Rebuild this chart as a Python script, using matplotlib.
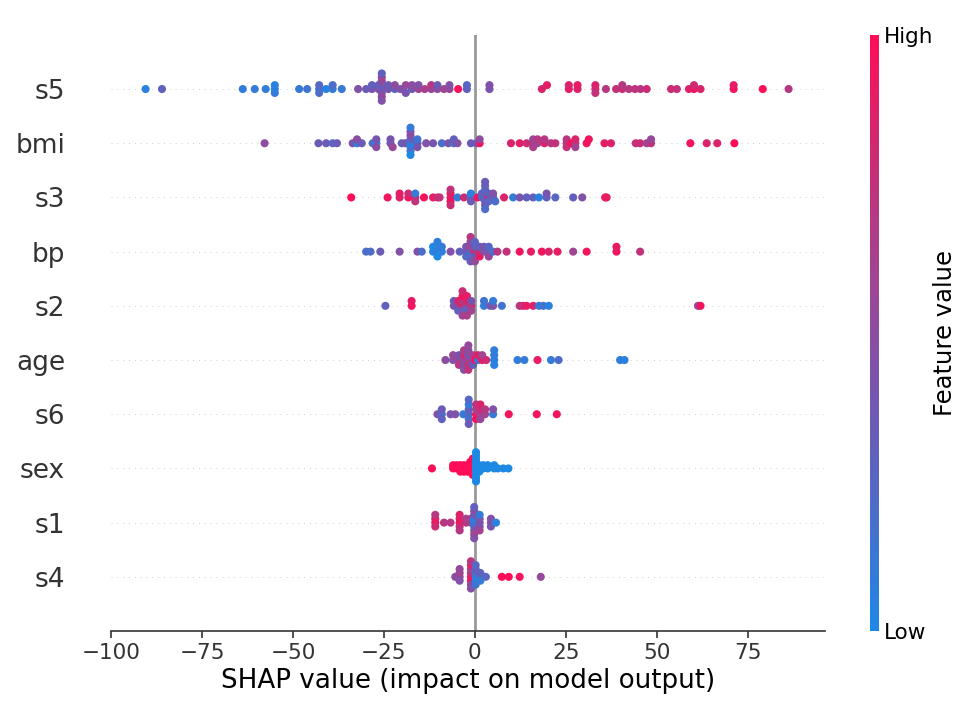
import numpy as np
import matplotlib
matplotlib.use("Agg")
import matplotlib.pyplot as plt
from matplotlib.colors import LinearSegmentedColormap

# ------------------------------------------------------------
# Data: SHAP value and normalised feature value for each point
# ------------------------------------------------------------

features = ["s4", "s1", "sex", "s6", "age", "s2", "bp", "s3", "bmi", "s5"]

s5_shap = [-90.5, -86.0, -63.8, -60.5, -57.5, -55.0, -55.0, -55.0, -48.3, -46.1,
           -42.8, -42.8, -42.8, -40.9, -39.1, -39.1, -36.6, -32.1, -29.9, -28.3,
           -28.3, -26.5, -26.5, -25.6, -25.6, -25.6, -25.6, -25.6, -25.6, -25.6,
           -25.6, -23.8, -23.8, -22.0, -22.0, -20.5, -19.0, -19.0, -17.3, -17.3,
           -15.5, -15.5, -13.8, -12.0, -12.0, -10.3, -10.3, -8.5, -7.0, -7.0,
           -4.6, -2.2, -2.2, 4.0, 4.0, 18.4, 19.8, 25.8, 25.8, 28.2,
           28.2, 33.1, 33.1, 33.1, 36.0, 38.8, 40.5, 40.5, 42.3, 44.0,
           45.5, 47.2, 53.9, 55.5, 58.8, 60.2, 60.2, 62.0, 71.1, 71.1,
           79.1, 86.2]
s5_val = [0.05, 0.3, 0.08, 0.1, 0.1, 0.02, 0.05, 0.1, 0.12, 0.15,
          0.15, 0.25, 0.2, 0.05, 0.1, 0.2, 0.12, 0.45, 0.35, 0.4,
          0.3, 0.45, 0.3, 0.25, 0.35, 0.4, 0.5, 0.55, 0.6, 0.45,
          0.3, 0.4, 0.35, 0.3, 0.5, 0.45, 0.55, 0.4, 0.35, 0.5,
          0.6, 0.45, 0.65, 0.55, 0.7, 0.5, 0.35, 0.6, 0.55, 0.45,
          0.95, 0.3, 0.25, 0.4, 0.45, 0.85, 0.9, 0.9, 0.85, 0.85,
          0.9, 0.8, 0.85, 0.75, 0.7, 0.75, 0.8, 0.7, 0.7, 0.75,
          0.7, 0.8, 0.8, 0.75, 0.85, 0.95, 0.8, 0.85, 0.95, 0.9,
          1.0, 0.7]

bmi_shap = [-57.8, -43.0, -40.9, -39.1, -37.9, -33.6, -32.4, -32.4, -31.1, -28.1,
            -27.1, -27.1, -27.1, -23.2, -23.2, -22.6, -20.1, -19.1, -17.7, -17.7,
            -17.7, -17.7, -17.7, -17.7, -17.7, -17.7, -15.8, -15.8, -15.8, -13.4,
            -11.5, -9.1, -7.3, -5.8, -5.8, -4.8, -1.1, 0.4, 1.3, 1.3,
            9.9, 12.3, 14.2, 16.0, 16.0, 16.0, 17.2, 17.2, 19.1, 19.1,
            20.9, 22.1, 25.2, 25.2, 25.2, 26.4, 27.6, 27.6, 27.6, 30.7,
            31.3, 35.6, 37.4, 44.2, 45.4, 47.2, 48.4, 48.4, 59.2, 63.7,
            66.6, 71.3]
bmi_val = [0.5, 0.35, 0.35, 0.25, 0.35, 0.45, 0.1, 0.5, 0.35, 0.2,
           0.05, 0.4, 0.5, 0.35, 0.4, 0.55, 0.3, 0.4, 0.05, 0.3,
           0.02, 0.45, 0.2, 0.5, 0.0, 0.1, 0.3, 0.15, 0.4, 0.45,
           0.4, 0.2, 0.4, 0.2, 0.3, 0.45, 0.35, 0.35, 0.95, 0.5,
           0.85, 0.9, 0.8, 0.75, 0.55, 0.65, 0.6, 0.7, 0.85, 0.7,
           0.7, 0.75, 0.65, 0.7, 0.75, 0.95, 0.7, 0.85, 0.6, 0.95,
           0.95, 0.9, 0.85, 0.75, 0.8, 0.6, 0.75, 0.55, 0.95, 0.85,
           0.85, 1.0]

s3_shap = [-34.0, -24.0, -20.7, -20.7, -18.3, -18.3, -16.4, -16.4, -16.4, -14.0,
           -11.5, -10.3, -9.7, -6.7, -6.7, -6.7, -6.7, -6.7, -4.8, -3.0,
           -1.1, -1.1, -1.1, 0.7, 1.9, 1.9, 2.8, 2.8, 2.8, 2.8,
           2.8, 2.8, 2.8, 2.8, 3.8, 3.8, 3.8, 5.0, 5.0, 5.6,
           8.0, 10.5, 12.3, 14.2, 16.0, 17.6, 19.7, 19.7, 22.1, 27.0,
           29.5, 35.8, 36.2]
s3_val = [1.0, 0.95, 0.85, 0.9, 0.95, 0.8, 0.8, 0.1, 0.75, 0.95,
          0.9, 0.8, 0.75, 0.85, 0.9, 0.95, 0.75, 0.8, 0.1, 0.8,
          0.15, 0.05, 0.35, 0.95, 0.3, 0.25, 0.2, 0.35, 0.3, 0.25,
          0.4, 0.3, 0.2, 0.35, 0.9, 0.3, 0.25, 0.3, 0.45, 0.2,
          0.85, 0.1, 0.4, 0.3, 0.3, 0.05, 0.3, 0.4, 0.25, 0.3,
          0.45, 1.0, 0.9]

bp_shap = [-29.9, -28.7, -26.0, -20.7, -15.8, -14.6, -11.5, -11.5, -10.3, -10.3,
           -10.3, -10.3, -9.1, -9.1, -6.7, -4.2, -2.4, -2.4, -2.4, -1.2,
           -1.2, -1.2, -1.2, -1.2, -1.2, 0.0, 0.0, 0.0, 0.0, 0.0,
           1.3, 1.3, 1.3, 2.5, 2.5, 3.8, 3.8, 3.8, 5.0, 6.2,
           8.7, 12.3, 15.4, 18.4, 20.3, 22.7, 27.0, 30.7, 38.9, 38.9,
           45.4]
bp_val = [0.2, 0.2, 0.35, 0.45, 0.45, 0.2, 0.05, 0.0, 0.1, 0.05,
          0.0, 0.08, 0.05, 0.1, 0.45, 0.3, 0.35, 0.4, 0.25, 0.3,
          0.6, 0.2, 0.5, 0.35, 0.7, 0.85, 0.3, 0.4, 0.25, 0.55,
          0.75, 0.3, 0.9, 0.5, 0.4, 0.35, 0.25, 0.55, 0.2, 0.7,
          0.75, 0.95, 0.9, 0.95, 0.85, 0.9, 0.6, 0.95, 0.95, 0.9,
          0.75]

s2_shap = [-24.6, -17.4, -17.4, -5.8, -5.8, -4.6, -4.6, -4.6, -3.4, -3.4,
           -3.4, -3.4, -3.4, -3.4, -2.2, -2.2, -2.2, -2.2, -2.2, -1.0,
           -1.0, -1.0, 2.5, 2.5, 4.2, 5.0, 5.0, 7.4, 12.3, 13.2,
           14.2, 16.0, 17.6, 18.8, 20.3, 61.3, 62.0]
s2_val = [0.3, 0.95, 0.9, 0.4, 0.35, 0.5, 0.85, 0.3, 0.9, 0.7,
          0.35, 0.95, 0.6, 0.8, 0.5, 0.85, 0.3, 0.9, 0.65, 0.75,
          0.4, 0.6, 0.1, 0.15, 0.35, 0.45, 0.1, 0.15, 0.7, 0.8,
          0.9, 0.85, 0.1, 0.15, 0.05, 0.5, 0.95]

age_shap = [-8.1, -6.0, -6.0, -4.4, -4.4, -4.4, -3.0, -3.0, -3.0, -3.0,
            -3.0, -1.8, -1.8, -1.8, -1.8, -1.8, -1.8, -0.5, -0.5, -0.5,
            0.1, 0.8, 0.8, 2.0, 2.0, 3.1, 5.3, 5.3, 5.3, 5.3,
            11.7, 13.6, 17.2, 20.9, 23.0, 39.9, 41.1]
age_val = [0.5, 0.45, 0.55, 0.6, 0.4, 0.7, 0.55, 0.8, 0.5, 0.65,
           0.45, 0.6, 0.4, 0.7, 0.5, 0.75, 0.55, 0.45, 0.65, 0.3,
           1.0, 0.15, 0.85, 0.9, 0.6, 0.8, 0.05, 0.1, 0.05, 0.08,
           0.1, 0.1, 0.9, 0.1, 0.2, 0.1, 0.05]

s6_shap = [-10.3, -9.1, -9.1, -9.1, -6.7, -5.4, -3.2, -1.7, -1.7, -1.7,
           -1.7, -1.7, -1.7, 0.3, 0.3, 0.3, 0.3, 1.5, 1.5, 1.5,
           1.5, 2.8, 2.8, 5.0, 5.0, 9.3, 17.0, 22.5]
s6_val = [0.45, 0.2, 0.35, 0.3, 0.4, 0.45, 0.1, 0.25, 0.3, 0.2,
          0.1, 0.35, 0.25, 0.9, 0.6, 0.95, 0.7, 0.65, 0.8, 0.55,
          0.85, 0.6, 0.7, 0.1, 0.45, 0.95, 0.95, 0.95]

sex_shap = [-11.8, -6.0, -6.0, -5.0, -5.0, -4.0, -4.0, -4.0, -3.0, -3.0,
            -3.0, -2.0, -2.0, -2.0, -1.3, -1.3, -1.3, -1.3, -0.6, -0.6,
            -0.6, -0.6, -0.6, -0.6, 0.3, 0.3, 0.3, 0.3, 0.3, 0.3,
            0.3, 0.3, 0.3, 0.3, 1.2, 1.2, 1.2, 2.3, 2.3, 3.5,
            3.5, 5.3, 5.3, 6.3, 7.8, 9.2]
sex_val = [1.0] * 24 + [0.0] * 22

s1_shap = [-10.9, -10.9, -10.9, -10.9, -8.5, -6.7, -4.2, -4.2, -4.2, -4.2,
           -4.2, -2.4, -2.4, -1.1, -1.1, -0.2, -0.2, -0.2, -0.2, -0.2,
           -0.2, -0.2, -0.2, -0.2, 1.3, 1.3, 1.3, 1.3, 1.3, 4.4,
           4.4, 4.4, 5.8]
s1_val = [1.0, 0.9, 0.8, 0.7, 0.7, 0.7, 0.95, 0.9, 0.8, 0.85,
          0.7, 0.75, 0.65, 0.5, 0.6, 0.0, 0.05, 0.2, 0.35, 0.4,
          0.5, 0.6, 0.3, 0.45, 0.5, 0.45, 0.4, 0.1, 0.6, 0.5,
          0.45, 0.4, 0.05]

s4_shap = [-5.4, -4.2, -4.2, -4.2, -4.2, -1.1, -1.1, -1.1, -1.1, -1.1,
           -1.1, -1.1, -1.1, 0.2, 0.2, 0.2, 0.2, 0.2, 0.2, 1.5,
           1.5, 1.5, 3.0, 7.4, 9.3, 12.3, 18.1]
s4_val = [0.5, 0.5, 0.6, 0.45, 0.55, 0.9, 0.75, 0.95, 0.6, 0.5,
          0.85, 0.45, 0.7, 0.1, 0.2, 0.05, 0.3, 0.15, 0.25, 0.2,
          0.3, 0.1, 0.25, 1.0, 1.0, 0.95, 0.55]

rows = [(s4_shap, s4_val), (s1_shap, s1_val), (sex_shap, sex_val),
        (s6_shap, s6_val), (age_shap, age_val), (s2_shap, s2_val),
        (bp_shap, bp_val), (s3_shap, s3_val), (bmi_shap, bmi_val),
        (s5_shap, s5_val)]

# ------------------------------------------------------------
# Colormap (blue -> purple -> red)
# ------------------------------------------------------------

red_blue = LinearSegmentedColormap.from_list(
    "red_blue",
    ["#1E88E5", "#4C6DCA", "#7755AF", "#A14492", "#CC2C73", "#FF0D57"])

axis_color = "#333333"
row_height = 0.4


def beeswarm_offsets(shaps, nbins=100):
    shaps = np.asarray(shaps, dtype=float)
    quant = np.round(nbins * (shaps - shaps.min()) / (shaps.max() - shaps.min() + 1e-8))
    inds = np.argsort(quant, kind="stable")
    layer = 0
    last_bin = -1
    ys = np.zeros(len(shaps))
    for ind in inds:
        if quant[ind] != last_bin:
            layer = 0
        ys[ind] = np.ceil(layer / 2) * ((layer % 2) * 2 - 1)
        layer += 1
        last_bin = quant[ind]
    ys *= 0.9 * (row_height / np.max(ys + 1))
    return ys


# ------------------------------------------------------------
# Plot
# ------------------------------------------------------------

fig = plt.figure(figsize=(9.74, 7.14), dpi=100)
ax = fig.add_axes([0.114, 0.1162, 0.733, 0.835])

ax.axvline(x=0, color="#999999", lw=2, zorder=-1)

for pos, (shaps, vals) in enumerate(rows):
    ax.axhline(y=pos, color="#cccccc", lw=0.7, dashes=(1, 5), zorder=-1)
    ys = beeswarm_offsets(shaps)
    ax.scatter(shaps, pos + ys, c=vals, cmap=red_blue, vmin=0, vmax=1,
               s=34, linewidth=0, alpha=1, zorder=3, rasterized=True)

ax.set_xlim(-100, 96.2)
ax.set_ylim(-1, len(features))
ax.set_yticks(range(len(features)))
ax.set_yticklabels(features, fontsize=19)
ax.set_xticks([-100, -75, -50, -25, 0, 25, 50, 75])
ax.tick_params("y", length=0, pad=33, colors=axis_color)
ax.tick_params("x", labelsize=15.5, colors=axis_color, length=5, width=1.2)
for side in ["right", "top", "left"]:
    ax.spines[side].set_visible(False)
ax.spines["bottom"].set_color(axis_color)
ax.spines["bottom"].set_linewidth(1.2)
ax.set_xlabel("SHAP value (impact on model output)", fontsize=18.8)

# Colorbar
cax = fig.add_axes([0.8935, 0.1162, 0.0088, 0.835])
sm = plt.cm.ScalarMappable(cmap=red_blue)
sm.set_array([0, 1])
cb = fig.colorbar(sm, cax=cax, ticks=[0, 1])
cb.set_ticklabels(["Low", "High"])
cb.ax.tick_params(labelsize=15.5, length=0)
cb.set_label("Feature value", size=17.5, labelpad=0)
cb.outline.set_visible(False)

fig.savefig("out.png", dpi=100)
